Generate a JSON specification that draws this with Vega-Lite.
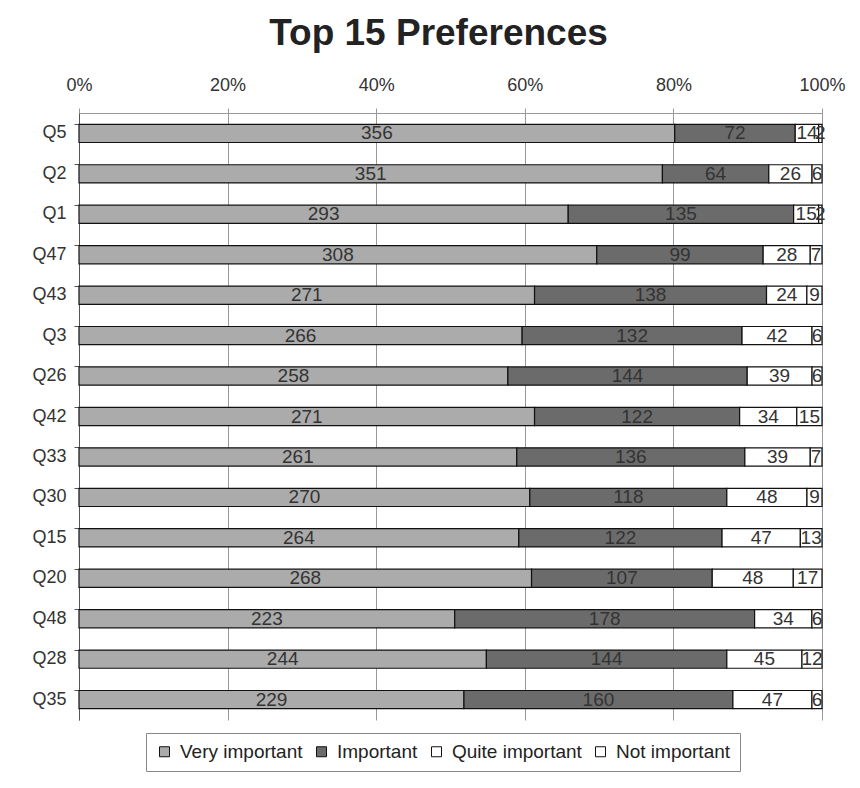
{
  "$schema": "https://vega.github.io/schema/vega-lite/v6.json",
  "width": 743,
  "height": 607,
  "autosize": {"type": "none"},
  "padding": {"left": 79, "top": 113, "right": 38, "bottom": 68},
  "background": "white",
  "config": {
    "font": "Liberation Sans",
    "view": {"stroke": null}
  },
  "title": {
    "text": "Top 15 Preferences",
    "font": "Liberation Sans",
    "fontSize": 37,
    "fontWeight": "bold",
    "color": "#222222",
    "anchor": "middle",
    "dx": -12,
    "offset": 23
  },
  "data": {
    "values": [
      {"q": "Q5", "level": "Very important", "n": 356},
      {"q": "Q5", "level": "Important", "n": 72},
      {"q": "Q5", "level": "Quite important", "n": 14},
      {"q": "Q5", "level": "Not important", "n": 2},
      {"q": "Q2", "level": "Very important", "n": 351},
      {"q": "Q2", "level": "Important", "n": 64},
      {"q": "Q2", "level": "Quite important", "n": 26},
      {"q": "Q2", "level": "Not important", "n": 6},
      {"q": "Q1", "level": "Very important", "n": 293},
      {"q": "Q1", "level": "Important", "n": 135},
      {"q": "Q1", "level": "Quite important", "n": 15},
      {"q": "Q1", "level": "Not important", "n": 2},
      {"q": "Q47", "level": "Very important", "n": 308},
      {"q": "Q47", "level": "Important", "n": 99},
      {"q": "Q47", "level": "Quite important", "n": 28},
      {"q": "Q47", "level": "Not important", "n": 7},
      {"q": "Q43", "level": "Very important", "n": 271},
      {"q": "Q43", "level": "Important", "n": 138},
      {"q": "Q43", "level": "Quite important", "n": 24},
      {"q": "Q43", "level": "Not important", "n": 9},
      {"q": "Q3", "level": "Very important", "n": 266},
      {"q": "Q3", "level": "Important", "n": 132},
      {"q": "Q3", "level": "Quite important", "n": 42},
      {"q": "Q3", "level": "Not important", "n": 6},
      {"q": "Q26", "level": "Very important", "n": 258},
      {"q": "Q26", "level": "Important", "n": 144},
      {"q": "Q26", "level": "Quite important", "n": 39},
      {"q": "Q26", "level": "Not important", "n": 6},
      {"q": "Q42", "level": "Very important", "n": 271},
      {"q": "Q42", "level": "Important", "n": 122},
      {"q": "Q42", "level": "Quite important", "n": 34},
      {"q": "Q42", "level": "Not important", "n": 15},
      {"q": "Q33", "level": "Very important", "n": 261},
      {"q": "Q33", "level": "Important", "n": 136},
      {"q": "Q33", "level": "Quite important", "n": 39},
      {"q": "Q33", "level": "Not important", "n": 7},
      {"q": "Q30", "level": "Very important", "n": 270},
      {"q": "Q30", "level": "Important", "n": 118},
      {"q": "Q30", "level": "Quite important", "n": 48},
      {"q": "Q30", "level": "Not important", "n": 9},
      {"q": "Q15", "level": "Very important", "n": 264},
      {"q": "Q15", "level": "Important", "n": 122},
      {"q": "Q15", "level": "Quite important", "n": 47},
      {"q": "Q15", "level": "Not important", "n": 13},
      {"q": "Q20", "level": "Very important", "n": 268},
      {"q": "Q20", "level": "Important", "n": 107},
      {"q": "Q20", "level": "Quite important", "n": 48},
      {"q": "Q20", "level": "Not important", "n": 17},
      {"q": "Q48", "level": "Very important", "n": 223},
      {"q": "Q48", "level": "Important", "n": 178},
      {"q": "Q48", "level": "Quite important", "n": 34},
      {"q": "Q48", "level": "Not important", "n": 6},
      {"q": "Q28", "level": "Very important", "n": 244},
      {"q": "Q28", "level": "Important", "n": 144},
      {"q": "Q28", "level": "Quite important", "n": 45},
      {"q": "Q28", "level": "Not important", "n": 12},
      {"q": "Q35", "level": "Very important", "n": 229},
      {"q": "Q35", "level": "Important", "n": 160},
      {"q": "Q35", "level": "Quite important", "n": 47},
      {"q": "Q35", "level": "Not important", "n": 6}
    ]
  },
  "encoding": {
    "y": {
      "field": "q",
      "type": "nominal",
      "sort": null,
      "scale": {"paddingInner": 0.55, "paddingOuter": 0.28},
      "axis": {
        "title": null,
        "labelFontSize": 18,
        "labelColor": "#333333",
        "labelPadding": 8,
        "domainColor": "#555555",
        "tickColor": "#555555",
        "tickSize": 5,
        "bandPosition": 0
      }
    },
    "x": {
      "field": "n",
      "type": "quantitative",
      "stack": "normalize",
      "scale": {"domain": [0, 1]},
      "axis": {
        "orient": "top",
        "title": null,
        "format": "%",
        "values": [0, 0.2, 0.4, 0.6, 0.8, 1],
        "labelFontSize": 18,
        "labelColor": "#333333",
        "labelPadding": 14,
        "labelFlush": false,
        "labelOverlap": false,
        "grid": true,
        "gridColor": "#999999",
        "domainColor": "#999999",
        "tickColor": "#999999",
        "tickSize": 5
      }
    },
    "order": {"field": "o"}
  },
  "layer": [
    {
      "mark": {"type": "bar", "stroke": "#111111", "strokeWidth": 1.2},
      "encoding": {
        "color": {
          "field": "level",
          "type": "nominal",
          "sort": ["Very important", "Important", "Quite important", "Not important"],
          "scale": {
            "domain": ["Very important", "Important", "Quite important", "Not important"],
            "range": ["#ababab", "#6b6b6b", "#ffffff", "#ffffff"]
          },
          "legend": {
            "title": null,
            "orient": "none",
            "direction": "horizontal",
            "legendX": 67,
            "legendY": 620,
            "symbolType": "square",
            "symbolSize": 100,
            "symbolStrokeColor": "#111111",
            "symbolStrokeWidth": 1,
            "labelFontSize": 19,
            "labelColor": "#222222",
            "labelOffset": 6,
            "columnPadding": 9,
            "padding": 9,
            "strokeColor": "#888888",
            "fillColor": "white"
          }
        }
      }
    },
    {
      "mark": {"type": "text", "fontSize": 19, "color": "#333333"},
      "encoding": {
        "x": {
          "field": "n",
          "type": "quantitative",
          "stack": "normalize",
          "bandPosition": 0.5
        },
        "text": {"field": "n", "type": "quantitative"}
      }
    }
  ]
}
